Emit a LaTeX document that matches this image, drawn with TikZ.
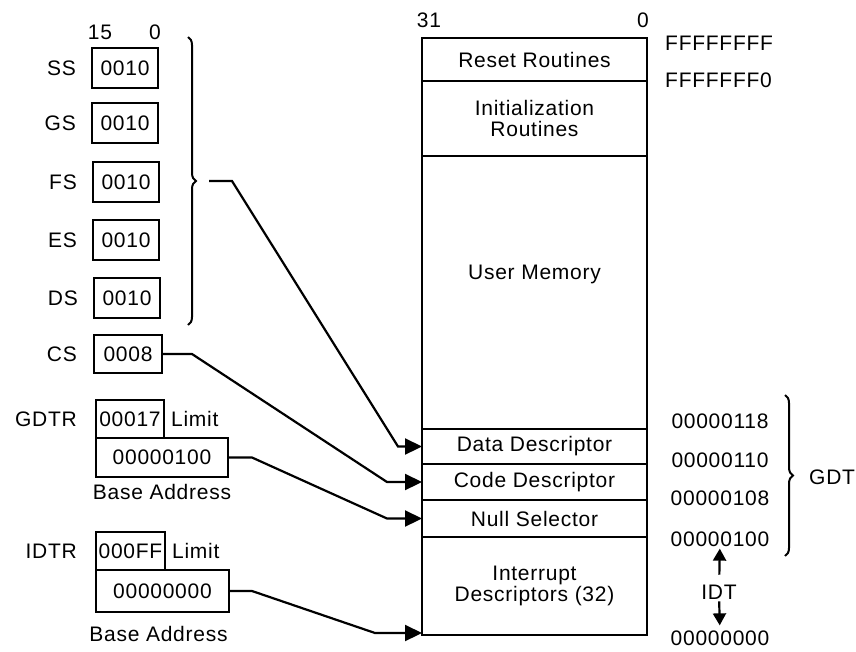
\documentclass[tikz,border=0pt]{standalone}
\usepackage{fontspec}
\setmainfont{Liberation Sans}[LetterSpace=3.5]
\usetikzlibrary{arrows.meta, positioning, decorations.pathreplacing}

\begin{document}
\begin{tikzpicture}[x=1pt, y=-1pt, every node/.style={font=\fontsize{21}{21}\selectfont, inner sep=2pt},
  reg/.style={draw, line width=2.2pt, minimum height=40pt, inner sep=0pt, outer sep=0pt},
  mem/.style={draw, line width=2.2pt, minimum width=225pt, outer sep=0pt, align=center},
  link/.style={line width=2.2pt, -{Triangle[length=17pt, width=16pt]}},
  tip/.style={line width=2.2pt, -{Triangle[length=12pt, width=13pt]}},
  brc/.style={decorate, decoration={brace, amplitude=8pt}, line width=2pt}]
  \useasboundingbox (0,0) rectangle (856,651);

  \node (bithi) at (100,32) {15};
  \node (bitlo) at (155,32) {0};
  \node (ss) [reg, minimum width=66pt] at (125,68) {0010};
  \node (gs) [reg, minimum width=66pt] at (125,123) {0010};
  \node (fs) [reg, minimum width=66pt] at (126,182) {0010};
  \node (es) [reg, minimum width=66pt] at (126,240) {0010};
  \node (ds) [reg, minimum width=66pt] at (127,298) {0010};
  \node (cs) [reg, minimum width=68pt, minimum height=38pt] at (128,354) {0008};
  \node (ss-lbl) [left=14pt of ss] {SS};
  \node (gs-lbl) [left=14pt of gs] {GS};
  \node (fs-lbl) [left=14pt of fs] {FS};
  \node (es-lbl) [left=14pt of es] {ES};
  \node (ds-lbl) [left=14pt of ds] {DS};
  \node (cs-lbl) [left=15pt of cs] {CS};

  \node (glim) [reg, minimum width=68pt, minimum height=38pt] at (130,419) {00017};
  \node (gbase) [reg, minimum width=132pt, minimum height=39pt, anchor=north west] at (glim.south west) {00000100};
  \node (gdtr) [left=17pt of glim] {GDTR};
  \node (glim-lbl) [right=5pt of glim] {Limit};
  \node (gbase-lbl) [below=5pt of gbase] {Base Address};

  \node (ilim) [reg, minimum width=69pt, minimum height=38pt] at (130.5,551) {000FF};
  \node (ibase) [reg, minimum width=133pt, minimum height=42pt, anchor=north west] at (ilim.south west) {00000000};
  \node (idtr) [left=17pt of ilim] {IDTR};
  \node (ilim-lbl) [right=5pt of ilim] {Limit};
  \node (ibase-lbl) [below=12pt of ibase, xshift=-4pt] {Base Address};

  \node (bit31) at (429,20) {31};
  \node (bit0) at (643,20) {0};
  \node (reset) [mem, minimum height=43pt] at (534.5,59.5) {Reset Routines};
  \node (init) [mem, minimum height=75pt, below=0pt of reset] {Initialization\\Routines};
  \node (user) [mem, minimum height=273pt, text depth=40pt, below=0pt of init] {User Memory};
  \node (data) [mem, minimum height=35pt, below=0pt of user] {Data Descriptor};
  \node (code) [mem, minimum height=36pt, below=0pt of data] {Code Descriptor};
  \node (null) [mem, minimum height=37pt, below=0pt of code] {Null Selector};
  \node (irq) [mem, minimum height=98pt, below=0pt of null] {Interrupt\\Descriptors (32)};

  \node (ffff) [anchor=west] at (663,43) {FFFFFFFF};
  \node (fff0) [anchor=west] at (663,80) {FFFFFFF0};
  \node (a118) at (720,421) {00000118};
  \node (a110) at (720,460) {00000110};
  \node (a108) at (720,498) {00000108};
  \node (a100) at (720,539) {00000100};
  \node (idt) at (719,592) {IDT};
  \node (a000) at (720,638) {00000000};
  \node (gdt) [anchor=west] at (807,477) {GDT};

  \coordinate (segtop) at (188,37);
  \coordinate (segbot) at (188,325);
  \coordinate (segtip) at (209,181);
  \coordinate (gdttop) at (785,395);
  \coordinate (gdtbot) at (785,556);

  \draw [brc] (segtop) -- (segbot);
  \draw [brc] (gdttop) -- (gdtbot);
  \draw [link] (segtip) -- ++(23,0) -- ([xshift=-24pt]data.west) -- (data.west);
  \draw [link] (cs.east) -- ++(30,0) -- ([xshift=-35pt]code.west) -- (code.west);
  \draw [link] (gbase.east) -- ++(24,0) -- ([xshift=-35pt]null.west) -- (null.west);
  \draw [link] (ibase.east) -- ++(23,0) -- ([xshift=-47pt, yshift=2pt]irq.south west) -- ([yshift=2pt]irq.south west);
  \draw [tip, shorten <=8pt] (idt) -- (a100);
  \draw [tip, shorten >=3pt] (idt) -- (a000);
\end{tikzpicture}
\end{document}
